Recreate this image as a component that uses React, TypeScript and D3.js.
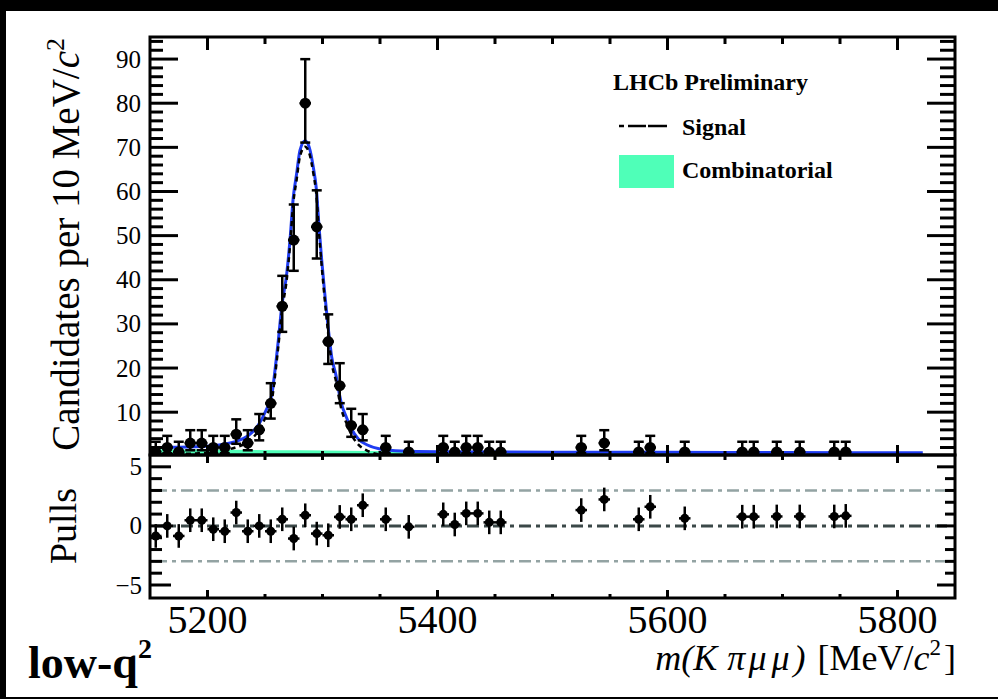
import * as d3 from "d3";

// bin centres (MeV/c^2) of the non-empty 10 MeV bins
const binMass = [
  5155, 5165, 5175, 5185, 5195, 5205, 5215, 5225, 5235, 5245, 5255, 5265, 5275,
  5285, 5295, 5305, 5315, 5325, 5335, 5355, 5375, 5405, 5415, 5425, 5435, 5445,
  5455, 5525, 5545, 5575, 5585, 5615, 5665, 5675, 5695, 5715, 5745, 5755,
];
const binCount = [
  1, 2, 1, 3, 3, 2, 2, 5, 3, 6, 12, 34, 49, 80, 52, 26, 16, 7, 6, 2, 1, 2, 1, 2,
  2, 1, 1, 2, 3, 1, 2, 1, 1, 1, 1, 1, 1, 1,
];
const errLow = [
  0.83, 1.29, 0.83, 1.63, 1.63, 1.29, 1.29, 2.16, 1.63, 2.38, 3.45, 5.8, 6.97,
  8.92, 7.18, 5.07, 3.96, 2.58, 2.38, 1.29, 0.83, 1.29, 0.83, 1.29, 1.29, 0.83,
  0.83, 1.29, 1.63, 0.83, 1.29, 0.83, 0.83, 0.83, 0.83, 0.83, 0.83, 0.83,
];
const errHigh = [
  2.3, 2.64, 2.3, 2.92, 2.92, 2.64, 2.64, 3.38, 2.92, 3.58, 4.57, 6.89, 8.05,
  9.98, 8.26, 6.16, 5.1, 3.77, 3.58, 2.64, 2.3, 2.64, 2.3, 2.64, 2.64, 2.3, 2.3,
  2.64, 2.92, 2.3, 2.64, 2.3, 2.3, 2.3, 2.3, 2.3, 2.3, 2.3,
];
const pulls = [
  -0.85, 0, -0.85, 0.48, 0.48, -0.28, -0.45, 1.13, -0.45, 0, -0.45, 0.56, -1.07,
  0.9, -0.65, -0.79, 0.76, 0.56, 1.75, 0.56, -0.08, 0.98, 0.12, 1.06, 1.06, 0.3,
  0.3, 1.34, 2.24, 0.56, 1.62, 0.64, 0.78, 0.78, 0.8, 0.8, 0.8, 0.85,
];

// fit curves
const fitMass = [
  5150, 5170, 5190, 5205, 5215, 5225, 5235, 5244, 5251, 5256, 5258, 5261.6,
  5264.5, 5268.9, 5271.7, 5274.6, 5277.5, 5280.4, 5284.8, 5288.5, 5292, 5294.8,
  5296.8, 5299.1, 5301.7, 5304.6, 5308, 5312, 5314, 5316.4, 5320.7, 5325, 5331,
  5339.6, 5351, 5368.5, 5400, 5500, 5600, 5700, 5822,
];
const fitTotal = [
  2.0, 2.05, 2.15, 2.4, 2.8, 3.4, 4.6, 7.0, 10.5, 14, 18, 26.3, 33.8, 41.4,
  48.9, 58.7, 64, 69.3, 71.5, 70, 65.5, 60.2, 52.7, 45.1, 37.6, 30, 22.5, 18,
  15, 12, 8.9, 6.3, 4, 2.5, 1.6, 1.2, 1.05, 0.95, 0.9, 0.85, 0.8,
];
const fitSignal = [
  0.4, 0.5, 0.65, 0.95, 1.4, 2.05, 3.25, 5.65, 9.15, 12.65, 16.65, 24.95,
  32.45, 40.05, 47.55, 57.35, 62.65, 67.95, 70.15, 68.65, 64.15, 58.85, 51.35,
  43.75, 36.25, 28.65, 21.15, 16.7, 13.7, 10.7, 7.6, 5.0, 2.7, 1.2, 0.4, 0.15,
  0.05, 0, 0, 0, 0,
];
const combMass = [5150, 5280, 5400, 5600, 5822];
const combLevel = [1.6, 1.35, 1.0, 0.85, 0.75];

const countTicks = [10, 20, 30, 40, 50, 60, 70, 80, 90];
const pullTicks = [5, 0, -5];
const massTicks = [5200, 5400, 5600, 5800];
const pullBands = [3, -3];

const serif = "'Liberation Serif', 'Times New Roman', Times, serif";

export default function App() {
  const W = 998;
  const H = 699;
  const left = 150;
  const right = 955;
  const top = 37;
  const mid = 455;
  const bottom = 598;

  const x = d3.scaleLinear().domain([5150, 5850]).range([left, right]);
  const y = d3.scaleLinear().domain([0.3, 95]).range([mid, top]);
  const yp = d3.scaleLinear().domain([-6.1, 6]).range([bottom, mid]);

  const minorX = x.ticks(14);
  const minorY = y.ticks(47);
  const minorP = yp.ticks(12);

  const totalPath = d3
    .line<number>()
    .x((_, i) => x(fitMass[i]))
    .y((d) => y(d))
    .curve(d3.curveMonotoneX)(fitTotal);
  const signalPath = d3
    .line<number>()
    .x((_, i) => x(fitMass[i]))
    .y((d) => y(d))
    .curve(d3.curveMonotoneX)(fitSignal);
  const combPath = d3
    .area<number>()
    .x((_, i) => x(combMass[i]))
    .y0(mid + 4)
    .y1((d) => y(d))
    .curve(d3.curveMonotoneX)(combLevel);

  const halfBin = (x(5160) - x(5150)) / 2;

  return (
    <svg
      width={W}
      height={H}
      style={{ position: "absolute", left: 0, top: 0 }}
      fontFamily={serif}
    >
      <defs>
        <clipPath id="upper">
          <rect x={left} y={top} width={right - left} height={mid - top} />
        </clipPath>
        <clipPath id="lower">
          <rect x={left} y={mid} width={right - left} height={bottom - mid} />
        </clipPath>
      </defs>
      <rect width={W} height={H} fill="#000" />
      <rect x={6} y={11} width={W - 6} height={686} fill="#fff" />

      {/* upper panel: fit components */}
      <g clipPath="url(#upper)">
        <path d={combPath ?? ""} fill="#4fffb8" />
        <path d={totalPath ?? ""} fill="none" stroke="#1f3cf2" strokeWidth={3} />
        <path
          d={signalPath ?? ""}
          fill="none"
          stroke="#000"
          strokeWidth={2.5}
          strokeDasharray="5,4"
        />
        {binMass.map((m, i) => {
          const cx = x(m);
          const y0 = y(binCount[i] - errLow[i]);
          const y1 = y(binCount[i] + errHigh[i]);
          return (
            <g key={m} stroke="#000" strokeWidth={2.5}>
              <line x1={cx} x2={cx} y1={y0} y2={y1} />
              <line x1={cx - 5} x2={cx + 5} y1={y1} y2={y1} />
              <line x1={cx - 5} x2={cx + 5} y1={y0} y2={y0} />
              <line x1={cx - halfBin} x2={cx + halfBin} y1={y(binCount[i])} y2={y(binCount[i])} />
              <circle cx={cx} cy={y(binCount[i])} r={5.5} fill="#000" stroke="none" />
            </g>
          );
        })}
      </g>

      {/* lower panel: pulls */}
      <g clipPath="url(#lower)">
        {pullBands.map((b) => (
          <line
            key={b}
            x1={left + 5}
            x2={right - 6}
            y1={yp(b)}
            y2={yp(b)}
            stroke="#93a3a3"
            strokeWidth={2.5}
            strokeDasharray="12,5,4,5"
          />
        ))}
        <line
          x1={left + 5}
          x2={right - 6}
          y1={yp(0)}
          y2={yp(0)}
          stroke="#3b4848"
          strokeWidth={3}
          strokeDasharray="12,5,4,5"
        />
        {binMass.map((m, i) => {
          const cx = x(m);
          return (
            <g key={m} stroke="#000" strokeWidth={2.5}>
              <line x1={cx} x2={cx} y1={yp(pulls[i] - 1)} y2={yp(pulls[i] + 1)} />
              <line x1={cx - halfBin} x2={cx + halfBin} y1={yp(pulls[i])} y2={yp(pulls[i])} />
              <circle cx={cx} cy={yp(pulls[i])} r={4.5} fill="#000" stroke="none" />
            </g>
          );
        })}
      </g>

      {/* frames and ticks */}
      <g stroke="#000" strokeWidth={3} fill="none">
        <rect x={left} y={top} width={right - left} height={mid - top} />
        <rect x={left} y={mid} width={right - left} height={bottom - mid} />
        {minorX.map((t) => {
          const major = massTicks.includes(t);
          const px = x(t);
          if (t <= 5150 || t >= 5850) return null;
          return (
            <g key={t}>
              <line x1={px} x2={px} y1={top} y2={top + (major ? 13 : 7)} />
              <line x1={px} x2={px} y1={mid} y2={mid - (major ? 10 : 4)} />
              <line x1={px} x2={px} y1={mid} y2={mid + (major ? 8 : 5)} />
              <line x1={px} x2={px} y1={bottom} y2={bottom - (major ? 8 : 4)} />
            </g>
          );
        })}
        {minorY.map((t) => {
          const major = countTicks.includes(t);
          const py = y(t);
          return (
            <g key={t}>
              <line x1={left} x2={left + (major ? 28 : 13)} y1={py} y2={py} />
              <line x1={right} x2={right - (major ? 28 : 15)} y1={py} y2={py} />
            </g>
          );
        })}
        {minorP.map((t) => {
          const major = pullTicks.includes(t);
          const py = yp(t);
          if (t <= -6 || t >= 6) return null;
          return (
            <g key={t}>
              <line x1={left} x2={left + (major ? 21 : 12)} y1={py} y2={py} />
              <line x1={right} x2={right - (major ? 18 : 10)} y1={py} y2={py} />
            </g>
          );
        })}
      </g>

      {/* tick labels */}
      <g fontSize={25} textAnchor="end" fill="#000">
        {countTicks.map((t) => (
          <text key={t} x={141} y={y(t)} dy="0.34em">
            {t}
          </text>
        ))}
        {pullTicks.map((t) => (
          <text key={t} x={142} y={yp(t)} dy="0.34em">
            {t < 0 ? `\u2212${-t}` : t}
          </text>
        ))}
      </g>
      <g fontSize={40} textAnchor="middle" fill="#000">
        {massTicks.map((t) => (
          <text key={t} x={x(t)} y={633}>
            {t}
          </text>
        ))}
      </g>

      {/* axis titles */}
      <text
        transform="translate(79,38) rotate(-90)"
        textAnchor="end"
        fontSize={39}
        fill="#000"
      >
        Candidates per 10 MeV/<tspan fontStyle="italic">c</tspan>
        <tspan dy={-15} fontSize={26}>
          2
        </tspan>
      </text>
      <text
        transform="translate(76,526) rotate(-90)"
        textAnchor="middle"
        fontSize={38}
        fill="#000"
      >
        Pulls
      </text>
      <text x={956} y={670} textAnchor="end" fontSize={36} fill="#000">
        <tspan fontStyle="italic">m(K</tspan>
        <tspan dx={10} fontStyle="italic">π</tspan>
        <tspan dx={3} fontStyle="italic">μ</tspan>
        <tspan dx={5} fontStyle="italic">μ</tspan>
        <tspan dx={4} fontStyle="italic">)</tspan>
        <tspan dx={12}>[MeV/</tspan>
        <tspan fontStyle="italic">c</tspan>
        <tspan dy={-15} fontSize={23}>
          2
        </tspan>
        <tspan dy={15} dx={3}>
          ]
        </tspan>
      </text>
      <text x={28} y={678} fontSize={46} fontWeight="bold" fill="#000">
        low-q
        <tspan dy={-20} fontSize={28}>
          2
        </tspan>
      </text>

      {/* legend */}
      <g fontSize={24} fontWeight="bold" fill="#000">
        <text x={613} y={90}>
          LHCb Preliminary
        </text>
        <line
          x1={619}
          x2={667}
          y1={126}
          y2={126}
          stroke="#000"
          strokeWidth={2.5}
          strokeDasharray="5 4 18 2 19"
        />
        <text x={682} y={135}>
          Signal
        </text>
        <rect x={619} y={155} width={55} height={33} fill="#4fffb8" />
        <text x={682} y={178}>
          Combinatorial
        </text>
      </g>
    </svg>
  );
}
